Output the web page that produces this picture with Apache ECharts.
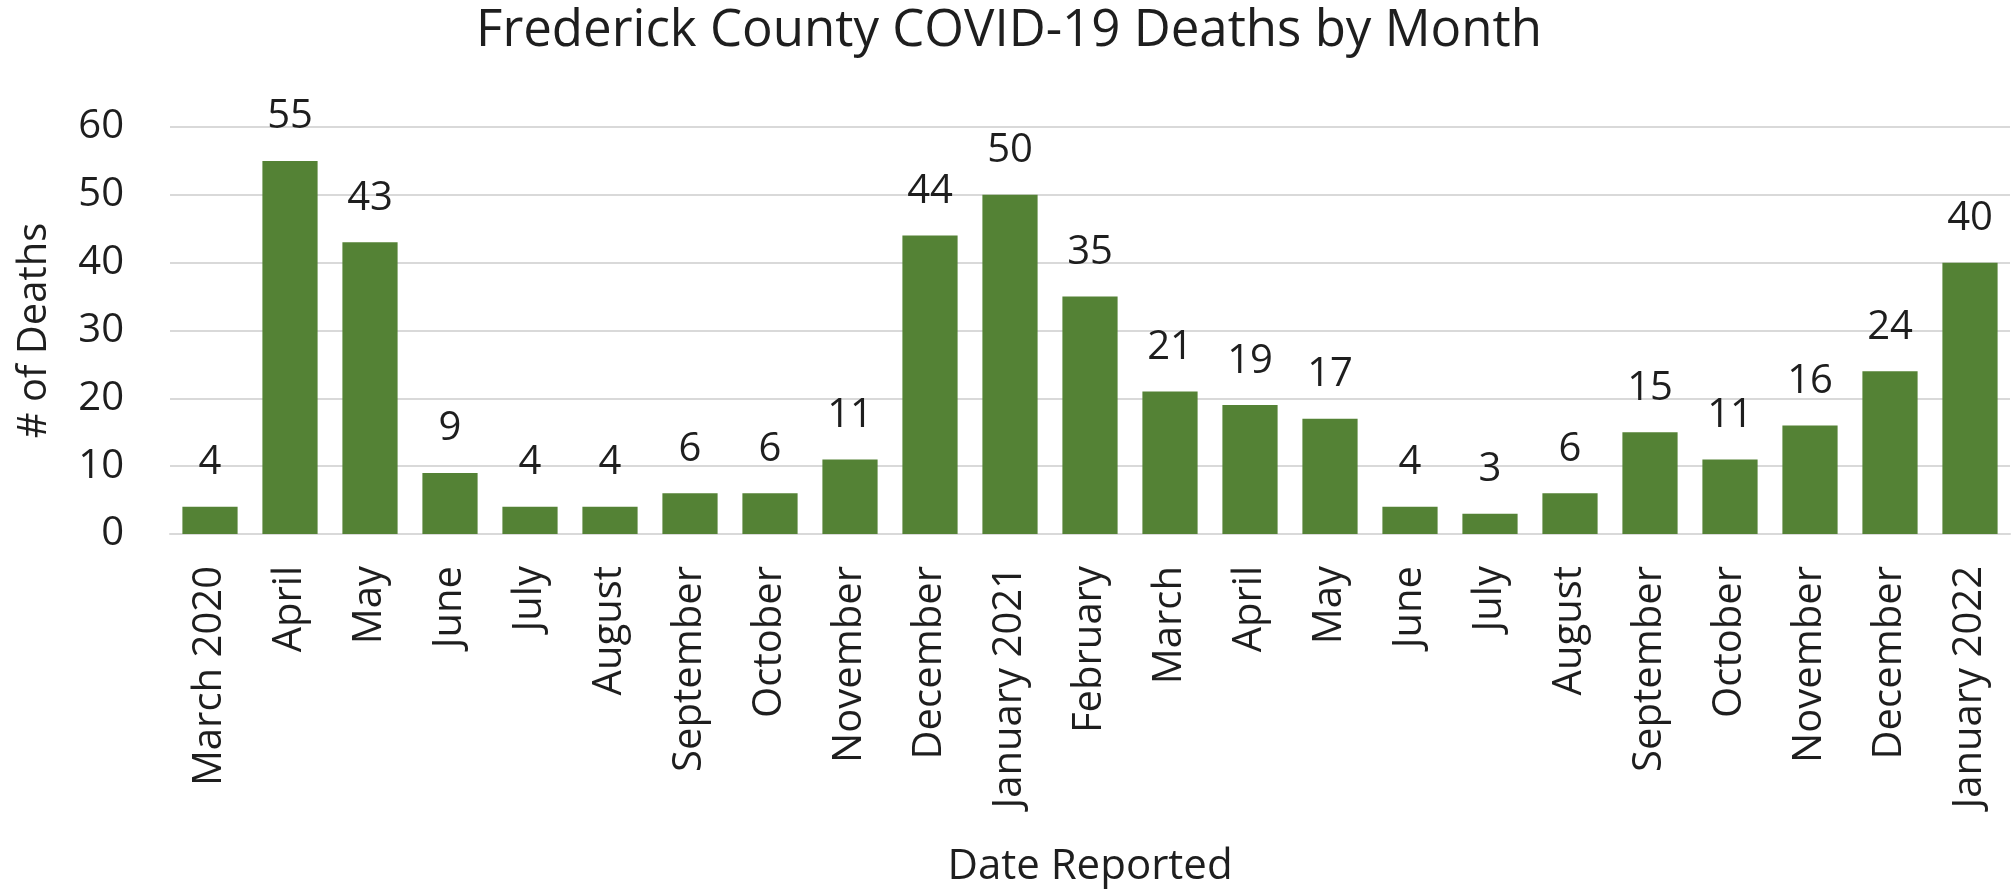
<!DOCTYPE html>
<html>
<head>
<meta charset="utf-8">
<script src="https://cdn.jsdelivr.net/npm/echarts@6/dist/echarts.min.js"></script>
<style>
html,body{margin:0;padding:0;background:#fff;}
#chart{width:2013px;height:893px;}
</style>
</head>
<body>
<div id="chart"></div>
<script>
const titleText = "Frederick County COVID-19 Deaths by Month";
const categories = ["March 2020","April","May","June","July","August","September","October","November","December","January 2021","February","March","April","May","June","July","August","September","October","November","December","January 2022"];
const deaths = [4,55,43,9,4,4,6,6,11,44,50,35,21,19,17,4,3,6,15,11,16,24,40];
const yTicks = [0,10,20,30,40,50,60];
const yName = "# of Deaths";
const xName = "Date Reported";

const FONT = "Open Sans";
const TXT = "#1e1e1e";
const chart = echarts.init(document.getElementById('chart'), null, {renderer:'canvas'});
chart.setOption({
  animation:false,
  backgroundColor:'#ffffff',
  title:{
    text:titleText, left:1004, textAlign:'center', top:1,
    textStyle:{fontFamily:FONT, fontSize:51, fontWeight:'normal', color:TXT}
  },
  grid:{left:170, right:3, top:127, bottom:359, containLabel:false, outerBoundsMode:'none'},
  xAxis:{
    type:'category', data:categories,
    axisLine:{lineStyle:{color:'#d9d9d9', width:2}},
    axisTick:{show:false},
    axisLabel:{rotate:90, margin:32, interval:0, fontFamily:FONT, fontSize:40, color:TXT},
    name:xName, nameLocation:'middle', nameGap:312,
    nameTextStyle:{fontFamily:FONT, fontSize:42, color:TXT}
  },
  yAxis:{
    type:'value', min:yTicks[0], max:yTicks[yTicks.length-1], interval:10,
    axisLine:{show:false}, axisTick:{show:false},
    splitLine:{lineStyle:{color:'#d9d9d9', width:2}},
    axisLabel:{margin:46, fontFamily:FONT, fontSize:40, color:TXT},
    name:yName, nameLocation:'middle', nameGap:115,
    nameTextStyle:{fontFamily:FONT, fontSize:40, color:TXT}
  },
  series:[{
    type:'bar', data:deaths, barCategoryGap:'31%',
    itemStyle:{color:'#548235'},
    label:{show:true, position:'top', distance:24, fontFamily:FONT, fontSize:40, color:TXT}
  }]
});
</script>
</body>
</html>
